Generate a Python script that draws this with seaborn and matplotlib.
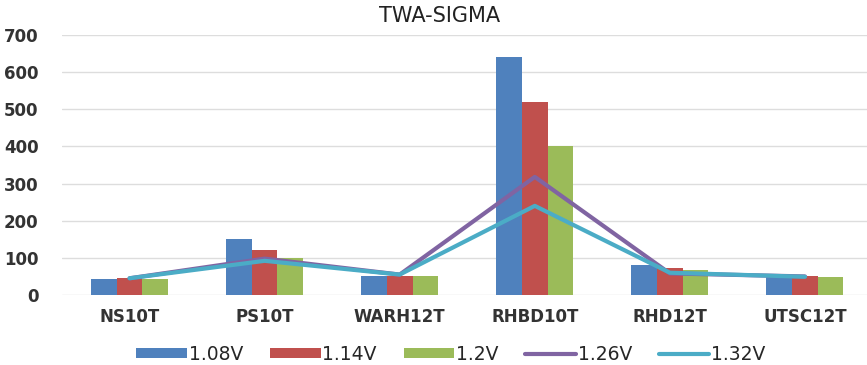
import numpy as np
import pandas as pd
import matplotlib
matplotlib.use("Agg")
import matplotlib.pyplot as plt
import seaborn as sns
from matplotlib.lines import Line2D
from matplotlib.patches import Patch

categories = ["NS10T", "PS10T", "WARH12T", "RHBD10T", "RHD12T", "UTSC12T"]
bar_series = ["1.08V", "1.14V", "1.2V"]
v108 = [44, 150, 50, 640, 80, 50]
v114 = [46, 120, 50, 520, 74, 50]
v120 = [44, 100, 50, 400, 68, 48]
line_series = ["1.26V", "1.32V"]
v126 = [45, 98, 55, 318, 58, 50]
v132 = [45, 92, 55, 240, 60, 49]
yticks = [0, 100, 200, 300, 400, 500, 600, 700]

bar_colors = ["#4F81BD", "#C0504D", "#9BBB59"]
line_colors = ["#8064A2", "#4BACC6"]

sns.set_theme(style="white")
plt.rcParams["font.family"] = ["DejaVu Sans"]

bars_df = pd.DataFrame({
    "cat": categories * 3,
    "val": v108 + v114 + v120,
    "series": [s for s in bar_series for _ in categories],
})
lines_df = pd.DataFrame({
    "x": list(np.arange(len(categories))) * 2,
    "val": v126 + v132,
    "series": [s for s in line_series for _ in categories],
})

fig = plt.figure(figsize=(8.67, 3.65), dpi=100)
ax = fig.add_axes([62 / 867, 70 / 365, (867 - 62) / 867, 260 / 365])

sns.barplot(data=bars_df, x="cat", y="val", hue="series", order=categories,
            hue_order=bar_series, palette=bar_colors, width=0.57, gap=0,
            saturation=1, ax=ax, legend=False, linewidth=0)
sns.lineplot(data=lines_df, x="x", y="val", hue="series", hue_order=line_series,
             palette=line_colors, linewidth=3, ax=ax, legend=False, zorder=5)

ax.set_xlim(-0.5, 5.5 - 5.5 / 135)
ax.set_ylim(0, 700)
ax.set_yticks(yticks)
ax.set_yticklabels([str(t) for t in yticks], fontsize=12, fontweight="bold", color="#333333")
ax.set_xticks(range(len(categories)))
ax.set_xticklabels(categories, fontsize=12, fontweight="bold", color="#333333")
ax.tick_params(axis="both", length=0)
ax.tick_params(axis="y", pad=17)
ax.tick_params(axis="x", pad=9)
ax.yaxis.grid(True, color="#DDDDDD", linewidth=1)
ax.set_axisbelow(True)
for s in ax.spines.values():
    s.set_visible(False)
ax.set_xlabel("")
ax.set_ylabel("")

fig.text(440 / 867, 1 - 16 / 365, "TWA-SIGMA", ha="center", va="center",
         fontsize=15, color="#222222")

handles = [Patch(facecolor=c, edgecolor="none") for c in bar_colors] + \
          [Line2D([0], [0], color=c, linewidth=3) for c in line_colors]
labels = bar_series + line_series
fig.legend(handles, labels, loc="center", bbox_to_anchor=(451 / 867, 1 - 354 / 365),
           ncol=5, frameon=False, fontsize=13.5, handlelength=2.7, handleheight=0.45,
           handletextpad=0.1, columnspacing=1.42, borderpad=0, borderaxespad=0)

fig.savefig("out.png", dpi=100)
